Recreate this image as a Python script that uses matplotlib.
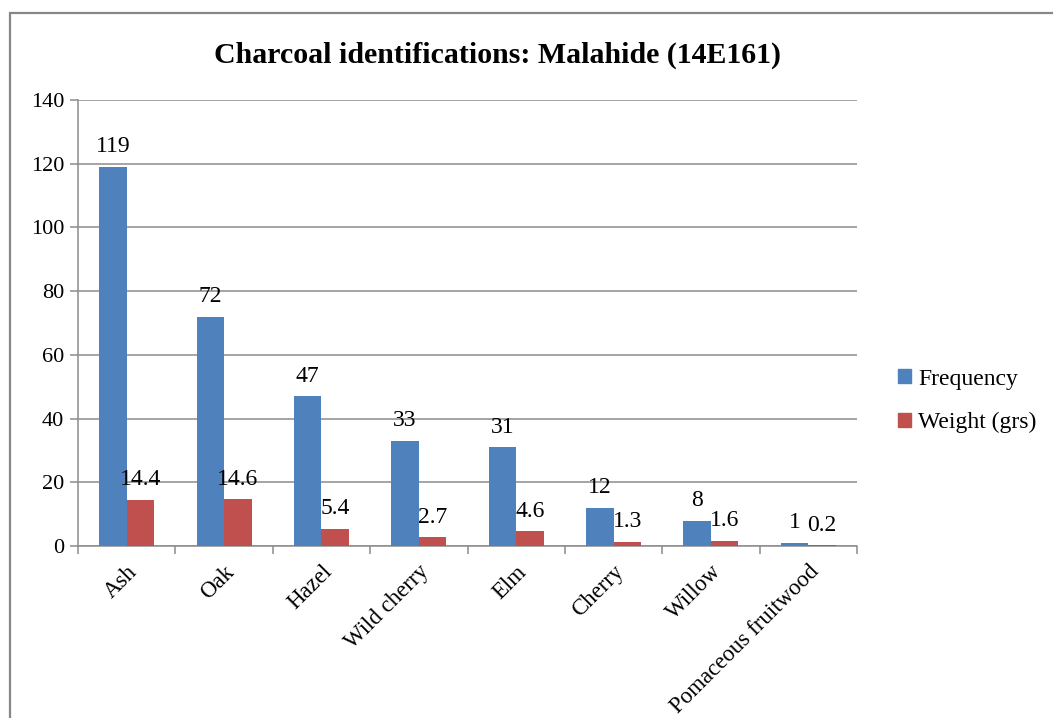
import matplotlib
matplotlib.use("Agg")
import matplotlib.pyplot as plt
from matplotlib.patches import Rectangle, Patch
import numpy as np

categories = ["Ash", "Oak", "Hazel", "Wild cherry", "Elm", "Cherry", "Willow",
              "Pomaceous fruitwood"]
frequency = [119, 72, 47, 33, 31, 12, 8, 1]
weight = [14.4, 14.6, 5.4, 2.7, 4.6, 1.3, 1.6, 0.2]
series_names = ["Frequency", "Weight (grs)"]
title = "Charcoal identifications: Malahide (14E161)"

blue = "#4F81BD"
red = "#C0504D"
grid_gray = "#8C8C8C"

plt.rcParams["font.family"] = ["Liberation Serif", "DejaVu Serif"]

fig = plt.figure(figsize=(10.53, 7.18), dpi=100)
W, H = 1053, 718

# chart frame (runs off the right and bottom edges)
fig.patches.append(Rectangle((10 / W, -0.1), 1.2, (H - 13) / H + 0.1,
                             transform=fig.transFigure, fill=False,
                             edgecolor="#878787", linewidth=1.6))

ax = fig.add_axes([78 / W, (H - 546) / H, (857 - 78) / W, (546 - 100) / H])

x = np.arange(len(categories))
bw = 0.283
b1 = ax.bar(x - bw / 2, frequency, bw, color=blue, label=series_names[0], zorder=3)
b2 = ax.bar(x + bw / 2, weight, bw, color=red, label=series_names[1], zorder=3)

for bars, vals in ((b1, frequency), (b2, weight)):
    for rect, v in zip(bars, vals):
        ax.annotate(f"{v:g}", (rect.get_x() + rect.get_width() / 2, v),
                    xytext=(0, 7), textcoords="offset points",
                    ha="center", va="bottom", fontsize=17, zorder=4)

ax.set_xlim(-0.5, len(categories) - 0.5)
ax.set_ylim(0, 140)
ax.set_yticks(np.arange(0, 141, 20))
ax.yaxis.grid(True, color=grid_gray, linewidth=1.1, zorder=0)
ax.set_axisbelow(True)

for side in ("top", "right"):
    ax.spines[side].set_visible(False)
for side in ("left", "bottom"):
    ax.spines[side].set_color(grid_gray)
    ax.spines[side].set_linewidth(1.1)

ax.set_xticks(x)
ax.set_xticklabels(categories, rotation=45, ha="right", rotation_mode="anchor",
                   fontsize=16.5)
ax.tick_params(axis="x", length=0, pad=11)
ax.set_xticks(np.arange(-0.5, len(categories)), minor=True)
ax.tick_params(axis="x", which="minor", length=6, color=grid_gray, width=1.1)
ax.tick_params(axis="y", length=6, color=grid_gray, width=1.1, labelsize=16, pad=4)

fig.text(498 / W, 1 - 55 / H, title, ha="center", va="center",
         fontsize=21.5, fontweight="bold")

handles = [Patch(color=blue), Patch(color=red)]
fig.legend(handles, series_names, loc="center left",
           bbox_to_anchor=(877 / W, 1 - 401 / H), frameon=False, fontsize=17,
           handlelength=0.55, handleheight=0.55, handletextpad=0.3,
           labelspacing=0.95)

fig.savefig("out.png", dpi=100)
